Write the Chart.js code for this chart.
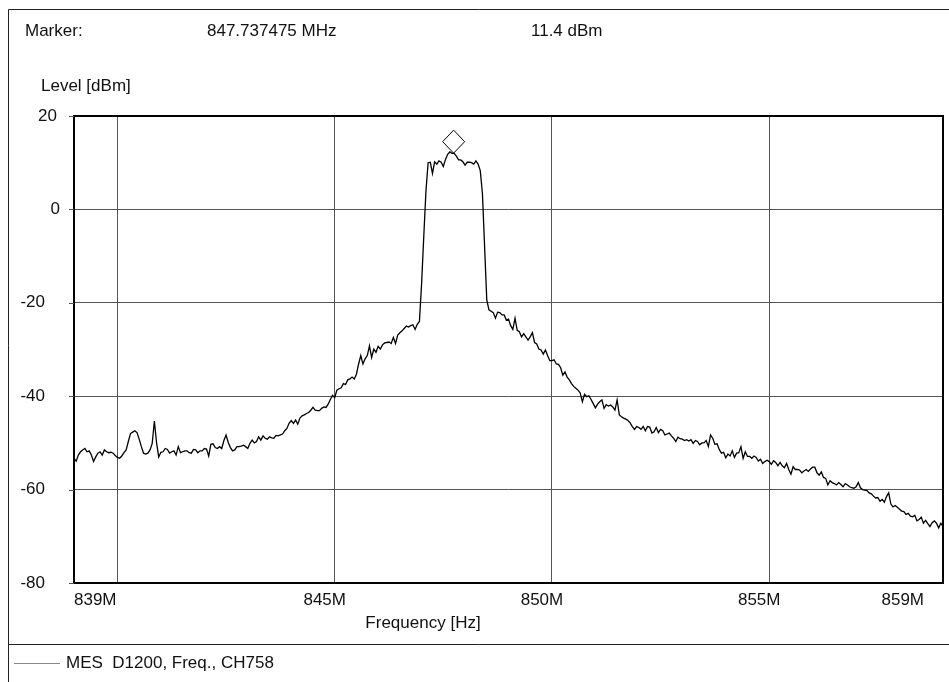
<!DOCTYPE html>
<html lang="en">
<head>
    <meta charset="UTF-8">
    <title>Spectrum CH758</title>
    <script src="https://cdn.jsdelivr.net/npm/chart.js@4.4.1/dist/chart.umd.min.js"></script>
    <style>
        html, body { margin: 0; padding: 0; background: #fff; }
        canvas { display: block; }
    </style>
</head>
<body>
    <canvas id="chart" width="949" height="682" style="width: 949px; height: 682px;"></canvas>

    <script>
    const sweepStartMHz = 839;
    const sweepStopMHz = 859;
    const levels = [
        -53.3, -53.9, -52.6, -51.9, -51.5, -51.2, -51.9, -51.7, -52.6, -54.0,
        -53.0, -52.2, -51.9, -52.6, -51.5, -51.9, -52.1, -52.0, -52.2, -52.7,
        -53.1, -53.3, -52.8, -52.1, -51.5, -49.7, -48.0, -47.7, -47.4, -47.8,
        -49.2, -50.8, -52.2, -52.4, -52.2, -51.5, -50.1, -45.3, -50.0, -53.0,
        -52.0, -51.9, -51.2, -51.4, -52.2, -51.9, -51.7, -52.6, -50.8, -52.1,
        -51.9, -51.7, -51.7, -52.1, -52.2, -51.4, -51.5, -52.1, -51.7, -51.7,
        -51.2, -51.3, -52.8, -50.3, -50.2, -51.0, -51.2, -50.8, -51.2, -49.5,
        -48.3, -49.9, -51.0, -51.7, -51.5, -50.8, -50.8, -50.7, -50.5, -50.8,
        -51.2, -50.1, -49.4, -50.0, -49.7, -48.7, -49.4, -48.5, -49.0, -49.2,
        -48.7, -48.9, -49.0, -48.4, -48.5, -48.3, -48.1, -47.4, -46.9, -45.8,
        -45.2, -45.8, -45.1, -46.0, -44.7, -44.2, -44.0, -43.7, -43.5, -43.0,
        -42.4, -43.0, -43.1, -43.1, -42.6, -42.3, -42.4, -41.7, -40.7, -39.8,
        -40.3, -38.7, -38.4, -38.2, -37.3, -37.5, -36.5, -36.3, -35.9, -36.3,
        -35.3, -33.1, -31.3, -33.1, -32.0, -31.3, -29.2, -31.7, -29.9, -30.6,
        -29.3, -29.9, -29.0, -28.6, -28.5, -28.4, -28.7, -27.4, -28.7, -26.9,
        -26.4, -26.0, -25.5, -25.0, -25.2, -24.9, -24.7, -25.7, -24.6, -24.0,
        -15.9, -5.8, 3.9, 10.0, 10.1, 7.7, 10.2, 9.7, 10.4, 10.1,
        9.2, 10.7, 11.8, 12.3, 12.0, 12.0, 11.4, 10.6, 10.6, 10.2,
        9.5, 10.1, 10.1, 10.0, 9.7, 10.4, 9.7, 8.3, 3.4, -8.0,
        -19.4, -21.5, -21.8, -22.1, -23.3, -22.0, -22.1, -22.6, -22.6, -23.7,
        -23.5, -24.9, -25.7, -23.3, -25.9, -26.2, -27.3, -26.6, -27.3, -28.0,
        -27.3, -26.4, -28.5, -28.8, -29.9, -30.1, -31.0, -30.1, -31.3, -32.4,
        -32.4, -32.2, -33.1, -33.2, -33.9, -35.5, -34.8, -35.9, -36.5, -37.3,
        -37.9, -38.3, -38.7, -39.3, -41.2, -39.6, -40.1, -39.9, -40.7, -41.6,
        -42.5, -41.7, -41.2, -40.8, -42.6, -41.8, -42.1, -41.9, -42.3, -43.0,
        -40.8, -44.0, -44.4, -44.7, -44.9, -45.2, -45.7, -46.5, -47.1, -46.5,
        -46.7, -47.1, -46.5, -47.4, -46.5, -46.6, -47.9, -47.6, -46.7, -47.8,
        -47.1, -47.4, -48.3, -48.1, -47.9, -48.5, -49.0, -49.7, -48.8, -49.1,
        -49.2, -49.5, -49.3, -49.6, -49.3, -50.1, -49.5, -49.7, -50.4, -50.0,
        -50.0, -49.5, -50.8, -48.3, -49.0, -50.3, -50.2, -51.4, -52.2, -52.0,
        -53.2, -52.4, -52.8, -51.7, -53.1, -52.2, -52.1, -50.8, -53.3, -51.9,
        -52.9, -52.9, -53.3, -52.8, -53.1, -53.9, -53.5, -54.4, -54.0, -53.7,
        -54.0, -54.6, -53.8, -54.2, -54.9, -54.2, -54.9, -55.3, -54.4, -55.7,
        -56.7, -55.1, -55.7, -55.7, -55.8, -56.4, -56.0, -55.7, -56.1, -55.6,
        -55.2, -55.2, -56.4, -56.9, -56.2, -57.4, -57.6, -59.0, -58.1, -58.5,
        -58.7, -59.0, -58.5, -58.9, -59.4, -58.7, -59.0, -59.4, -59.6, -59.7,
        -59.4, -58.5, -59.6, -60.0, -60.1, -60.2, -60.7, -60.9, -61.4, -61.8,
        -61.7, -62.5, -62.1, -62.7, -61.5, -60.7, -63.1, -63.7, -63.4, -63.8,
        -64.2, -64.6, -64.7, -65.3, -65.1, -65.7, -65.8, -65.5, -66.7, -66.4,
        -65.9, -67.2, -66.6, -67.3, -67.9, -67.1, -66.7, -67.2, -68.2, -67.2,
        -67.9
    ];
    const xGridMHz = [840, 845, 850, 855];
    const xTickValues = [839, 845, 850, 855, 859];
    const xTickLabels = ['839M', '845M', '850M', '855M', '859M'];
    const yTicks = [20, 0, -20, -40, -60, -80];
    const markerMHz = 847.737475;
    const markerDbm = 11.4;
    const traceName = 'MES  D1200, Freq., CH758';

    const stepMHz = (sweepStopMHz - sweepStartMHz) / (levels.length - 1);
    const points = levels.map((v, i) => ({ x: sweepStartMHz + i * stepMHz, y: v }));

    const FONT = '17px "Liberation Sans", Arial, sans-serif';

    const frame = {
        id: 'frame',
        beforeDraw(chart) {
            const c = chart.ctx;
            c.save();
            c.fillStyle = '#fff';
            c.fillRect(0, 0, chart.width, chart.height);
            c.restore();
        },
        afterDraw(chart) {
            const c = chart.ctx, a = chart.chartArea;
            const xs = chart.scales.x, ys = chart.scales.y;
            c.save();

            // outer frame + divider above legend
            c.strokeStyle = '#222';
            c.lineWidth = 1;
            c.beginPath();
            c.moveTo(8.5, chart.height); c.lineTo(8.5, 9.5); c.lineTo(chart.width, 9.5);
            c.moveTo(8.5, 644.5); c.lineTo(chart.width, 644.5);
            c.stroke();

            // plot box
            c.strokeStyle = '#000';
            c.lineWidth = 2;
            c.strokeRect(a.left, a.top, a.right - a.left, a.bottom - a.top);

            // little tick stubs left of the y axis
            c.lineWidth = 1;
            c.strokeStyle = '#555';
            yTicks.forEach(v => {
                const y = Math.round(ys.getPixelForValue(v)) + 0.5;
                c.beginPath(); c.moveTo(a.left - 5, y); c.lineTo(a.left, y); c.stroke();
            });

            c.fillStyle = '#111';
            c.font = FONT;
            c.textBaseline = 'middle';

            // header
            c.textAlign = 'left';
            c.fillText('Marker:', 25, 31);
            c.fillText(markerMHz.toFixed(6) + ' MHz', 207, 31);
            c.fillText(markerDbm.toFixed(1) + ' dBm', 531, 31);
            c.fillText('Level [dBm]', 41, 86);

            // y labels
            c.textAlign = 'right';
            yTicks.forEach(v => {
                const off = v < 0 ? 29 : (v === 0 ? 14 : 17);
                c.fillText(String(v), a.left - off, ys.getPixelForValue(v));
            });

            // x labels
            xTickValues.forEach((v, i) => {
                const px = xs.getPixelForValue(v);
                if (i === 0) { c.textAlign = 'left'; c.fillText(xTickLabels[i], px, 600); }
                else if (i === xTickValues.length - 1) { c.textAlign = 'right'; c.fillText(xTickLabels[i], px - 19, 600); }
                else { c.textAlign = 'center'; c.fillText(xTickLabels[i], px - 10, 600); }
            });
            c.textAlign = 'center';
            c.fillText('Frequency [Hz]', 423, 623);

            // legend
            c.strokeStyle = '#888';
            c.lineWidth = 1.2;
            c.beginPath(); c.moveTo(14, 663.5); c.lineTo(60, 663.5); c.stroke();
            c.textAlign = 'left';
            c.fillText(traceName, 66, 663);

            // marker diamond sitting on the peak
            const mx = xs.getPixelForValue(markerMHz);
            const my = ys.getPixelForValue(markerDbm) - 3;
            c.strokeStyle = '#000';
            c.lineWidth = 1;
            c.beginPath();
            c.moveTo(mx, my); c.lineTo(mx + 11, my - 11.5);
            c.lineTo(mx, my - 23); c.lineTo(mx - 11, my - 11.5);
            c.closePath(); c.stroke();

            c.restore();
        }
    };

    const ctx = document.getElementById('chart').getContext('2d');
    new Chart(ctx, {
        type: 'line',
        data: {
            datasets: [{
                label: traceName,
                data: points,
                borderColor: '#000',
                borderWidth: 1.3,
                pointRadius: 0,
                tension: 0,
                fill: false
            }]
        },
        options: {
            responsive: false,
            animation: false,
            devicePixelRatio: 1,
            layout: { padding: { left: 74, top: 116, right: 6, bottom: 99 } },
            plugins: { legend: { display: false }, tooltip: { enabled: false } },
            scales: {
                x: {
                    type: 'linear',
                    min: sweepStartMHz,
                    max: sweepStopMHz,
                    afterBuildTicks: s => { s.ticks = xGridMHz.map(v => ({ value: v })); },
                    ticks: { display: false },
                    border: { display: false },
                    grid: { color: '#555', lineWidth: 1, drawTicks: false }
                },
                y: {
                    min: -80,
                    max: 20,
                    ticks: { display: false, stepSize: 20 },
                    border: { display: false },
                    grid: { color: '#555', lineWidth: 1, drawTicks: false }
                }
            }
        },
        plugins: [frame]
    });
    </script>
</body>
</html>
